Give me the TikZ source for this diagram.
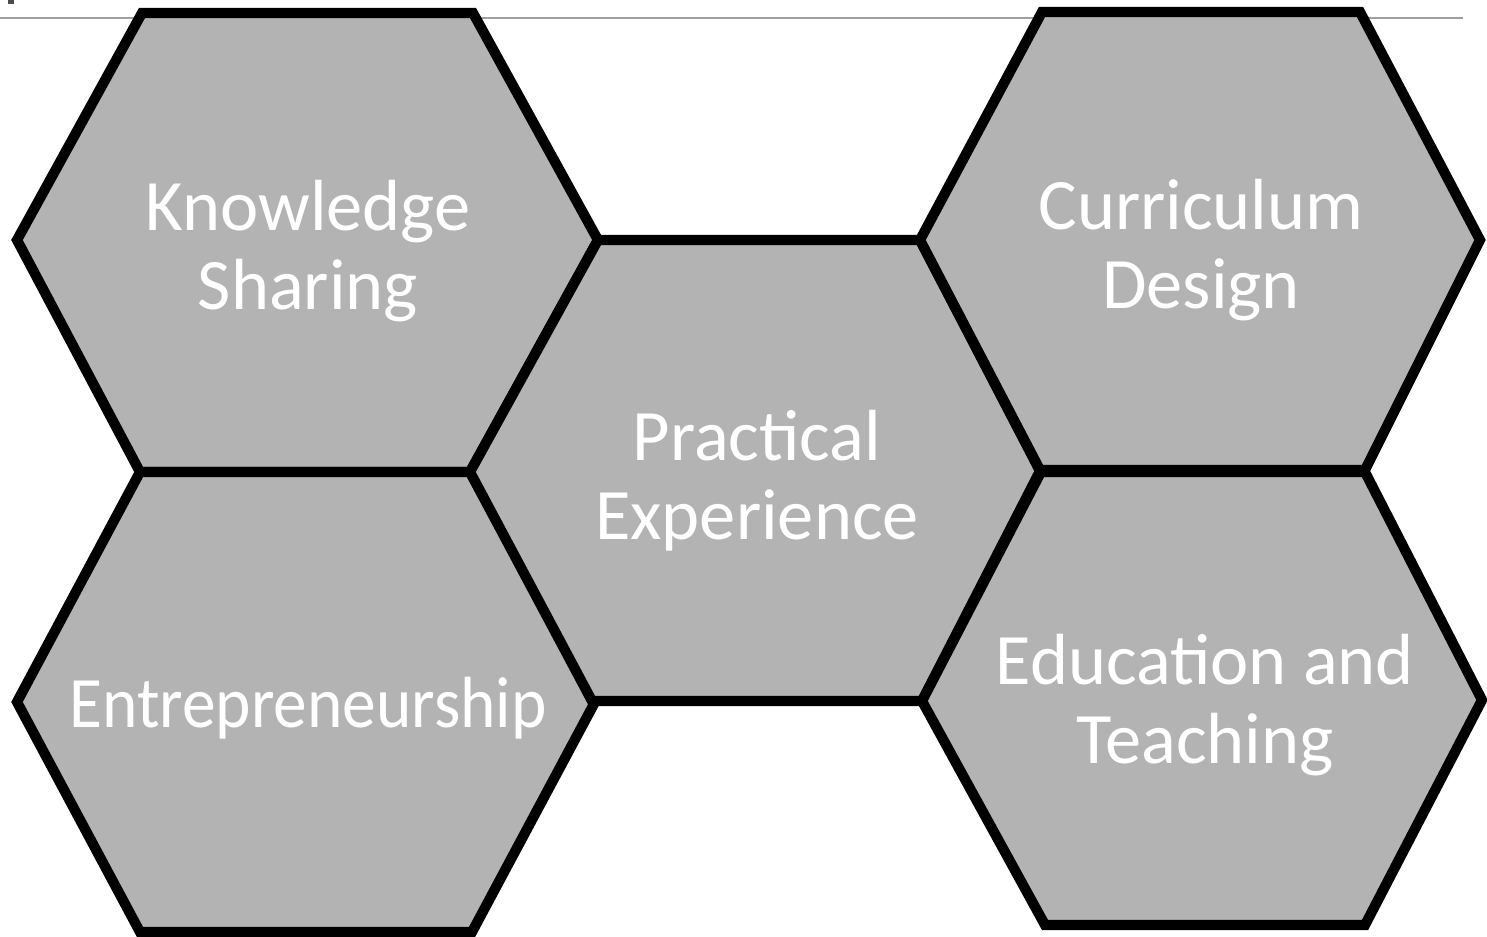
\documentclass[tikz,border=0pt]{standalone}
\usepackage{fontspec}
\setmainfont{Carlito}
\usetikzlibrary{positioning}

\definecolor{hexgray}{RGB}{179,179,179}
\definecolor{rulegray}{RGB}{160,160,160}

\begin{document}
\begin{tikzpicture}[x=0.01cm,y=-0.01cm,line join=miter]
\tikzset{hexa/.style={draw=black,fill=hexgray,line width=2.9pt}}
\tikzset{label/.style={text=white,align=center,font=\fontsize{20.6}{22.4}\selectfont,inner sep=0pt}}
\useasboundingbox (0,0) rectangle (1487,937);

% thin rule at the top
\draw[rulegray,line width=0.55pt] (0,18) -- (1463,18);
\fill[black!70] (8,0) rectangle (14,4);

% the five cells
\draw[hexa] (142,13) -- (473,13) -- (598,240) -- (470,472) -- (140,472) -- (17,240) -- cycle;
\draw[hexa] (140,472) -- (470,472) -- (595,702) -- (472,932) -- (140,932) -- (17,702) -- cycle;
\draw[hexa] (598,240) -- (920,240) -- (1040,471) -- (922,701) -- (592,701) -- (470,472) -- cycle;
\draw[hexa] (1042,12) -- (1360,12) -- (1480,240) -- (1365,470) -- (1040,470) -- (920,240) -- cycle;
\draw[hexa] (1041,472) -- (1365,472) -- (1482,700) -- (1365,925) -- (1045,925) -- (922,701) -- cycle;

\node[label] (know) at (308,251) {Knowledge\\Sharing};
\node[label] (entr) at (308,708) {\scalebox{0.93}[1]{Entrepreneurship}};
\node[label] (prac) at (757,481) {Practical\\Experience};
\node[label] (curr) at (1201,250) {Curriculum\\Design};
\node[label] (educ) at (1205,705) {Education and\\Teaching};
\end{tikzpicture}
\end{document}
